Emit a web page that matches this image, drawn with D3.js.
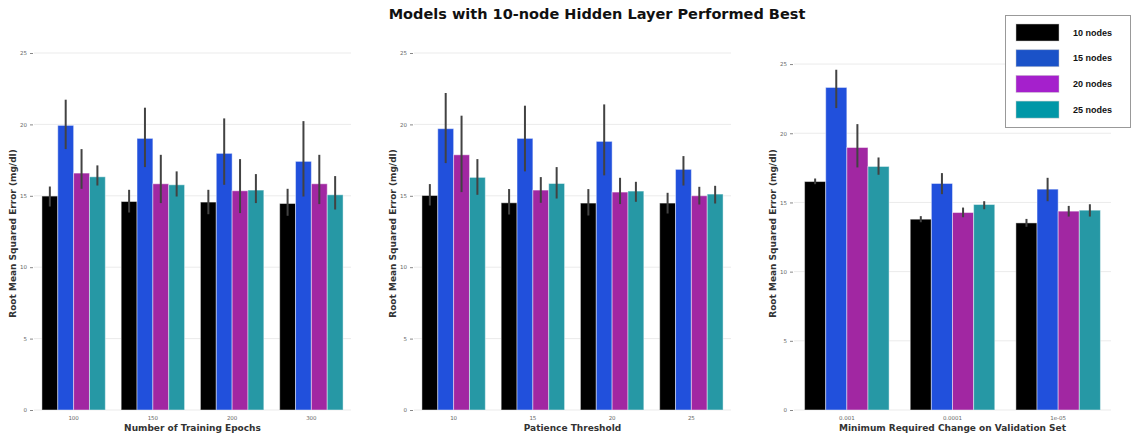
<!DOCTYPE html>
<html>
<head>
<meta charset="utf-8">
<script src="https://cdn.jsdelivr.net/npm/d3@7"></script>
<style>
  body { margin: 0; background: #fff; }
  svg { display: block; }
</style>
</head>
<body>
<svg id="chart"></svg>
<script>
// series names
const nodeSizes = ["10 nodes", "15 nodes", "20 nodes", "25 nodes"];
const barColors = ["#000000", "#2150dc", "#a127a2", "#2698a5"];
const legendColors = ["#000000", "#1a52c8", "#a520cc", "#0097a7"];

// panel 1: training epochs
const epochLabels = ["100", "150", "200", "300"];
const epochMeans = [
  [14.98, 19.93, 16.59, 16.33],
  [14.60, 19.02, 15.84, 15.77],
  [14.56, 17.97, 15.35, 15.40],
  [14.46, 17.41, 15.84, 15.07]
];
const epochLow = [
  [14.25, 18.27, 15.49, 15.72],
  [13.83, 17.01, 14.49, 14.95],
  [13.71, 15.77, 13.79, 14.49],
  [13.60, 14.95, 14.42, 14.04]
];
const epochHigh = [
  [15.65, 21.73, 18.27, 17.13],
  [15.42, 21.17, 17.87, 16.71],
  [15.42, 20.42, 17.57, 16.52],
  [15.49, 20.23, 17.87, 16.38]
];

// panel 2: patience
const patienceLabels = ["10", "15", "20", "25"];
const patienceMeans = [
  [15.02, 19.70, 17.87, 16.29],
  [14.51, 19.02, 15.40, 15.86],
  [14.49, 18.81, 15.26, 15.33],
  [14.49, 16.85, 15.00, 15.12]
];
const patienceLow = [
  [14.32, 17.29, 15.26, 15.07],
  [13.69, 16.71, 14.51, 14.81],
  [13.62, 16.43, 14.42, 14.58],
  [13.76, 15.72, 14.39, 14.46]
];
const patienceHigh = [
  [15.82, 22.20, 20.61, 17.57],
  [15.47, 21.31, 16.31, 17.01],
  [15.47, 21.40, 16.26, 15.98],
  [15.21, 17.78, 15.63, 15.70]
];

// panel 3: min delta
const deltaLabels = ["0.001", "0.0001", "1e-05"];
const deltaMeans = [
  [16.51, 23.31, 18.97, 17.60],
  [13.79, 16.37, 14.27, 14.85],
  [13.52, 15.96, 14.37, 14.44]
];
const deltaLow = [
  [16.32, 21.82, 17.53, 17.00],
  [13.57, 15.60, 13.93, 14.51],
  [13.24, 15.09, 13.98, 13.98]
];
const deltaHigh = [
  [16.73, 24.59, 20.66, 18.25],
  [14.01, 17.12, 14.63, 15.09],
  [13.81, 16.78, 14.75, 14.87]
];

const yTicks = [0, 5, 10, 15, 20, 25];

const width = 1135, height = 437;
const svg = d3.select("#chart").attr("width", width).attr("height", height);

svg.append("text")
  .attr("x", 597).attr("y", 19)
  .attr("text-anchor", "middle")
  .style("font-family", "DejaVu Sans")
  .style("font-weight", "bold")
  .style("font-size", "14.5px")
  .style("fill", "#111")
  .text("Models with 10-node Hidden Layer Performed Best");

const panels = [
  { left: 34, labels: epochLabels, means: epochMeans, low: epochLow, high: epochHigh, yMax: 25, xTitle: "Number of Training Epochs" },
  { left: 414, labels: patienceLabels, means: patienceMeans, low: patienceLow, high: patienceHigh, yMax: 25, xTitle: "Patience Threshold" },
  { left: 794, labels: deltaLabels, means: deltaMeans, low: deltaLow, high: deltaHigh, yMax: 25.8, xTitle: "Minimum Required Change on Validation Set" }
];

const plotW = 317, plotTop = 53, plotBottom = 410;

panels.forEach(p => {
  const g = svg.append("g");

  const x = d3.scaleBand()
    .domain(p.labels)
    .range([p.left, p.left + plotW])
    .paddingInner(0.2)
    .paddingOuter(0.1);

  const xSub = d3.scaleBand()
    .domain(d3.range(nodeSizes.length))
    .range([0, x.bandwidth()]);

  const y = d3.scaleLinear().domain([0, p.yMax]).range([plotBottom, plotTop]);

  // gridlines
  g.selectAll(".grid")
    .data(yTicks)
    .join("line")
    .attr("x1", p.left).attr("x2", p.left + plotW)
    .attr("y1", d => y(d)).attr("y2", d => y(d))
    .attr("stroke", "#ebebeb")
    .attr("stroke-width", 1);

  // y axis (ticks + labels only)
  const yAxis = g.append("g")
    .attr("transform", `translate(${p.left - 1},0)`)
    .call(d3.axisLeft(y).tickValues(yTicks).tickSize(3).tickPadding(3));
  yAxis.select(".domain").remove();
  yAxis.selectAll("line").style("stroke", "#888");
  yAxis.selectAll("text")
    .style("fill", "#666")
    .style("font-family", "DejaVu Sans")
    .style("font-size", "5.5px");

  // bars
  p.labels.forEach((lab, gi) => {
    const grp = g.append("g").attr("transform", `translate(${x(lab)},0)`);
    nodeSizes.forEach((n, si) => {
      grp.append("rect")
        .attr("x", xSub(si))
        .attr("y", y(p.means[gi][si]))
        .attr("width", xSub.bandwidth())
        .attr("height", y(0) - y(p.means[gi][si]))
        .attr("fill", barColors[si])
        .attr("stroke", "rgba(255,255,255,0.45)")
        .attr("stroke-width", 1);
    });
    nodeSizes.forEach((n, si) => {
      const cx = xSub(si) + xSub.bandwidth() / 2;
      grp.append("line")
        .attr("x1", cx).attr("x2", cx)
        .attr("y1", y(p.low[gi][si]))
        .attr("y2", y(p.high[gi][si]))
        .attr("stroke", "#424242")
        .attr("stroke-width", 2);
    });
  });

  // x tick labels
  g.selectAll(".xlab")
    .data(p.labels)
    .join("text")
    .attr("x", d => x(d) + x.bandwidth() / 2)
    .attr("y", 420)
    .attr("text-anchor", "middle")
    .style("fill", "#666")
    .style("font-family", "DejaVu Sans")
    .style("font-size", "5.5px")
    .text(d => d);

  // axis titles
  g.append("text")
    .attr("x", p.left + plotW / 2)
    .attr("y", 431)
    .attr("text-anchor", "middle")
    .style("fill", "#333")
    .style("font-family", "DejaVu Sans")
    .style("font-weight", "bold")
    .style("font-size", "9px")
    .text(p.xTitle);

  g.append("text")
    .attr("transform", `translate(${p.left - 18},${(plotTop + plotBottom) / 2 + 2}) rotate(-90)`)
    .attr("text-anchor", "middle")
    .style("fill", "#333")
    .style("font-family", "DejaVu Sans")
    .style("font-weight", "bold")
    .style("font-size", "9px")
    .text("Root Mean Squared Error (mg/dl)");
});

// legend
const legend = svg.append("g");
legend.append("rect")
  .attr("x", 1005.5).attr("y", 15.5)
  .attr("width", 125).attr("height", 112)
  .attr("fill", "#fff")
  .attr("stroke", "#999")
  .attr("stroke-width", 1);

nodeSizes.forEach((n, i) => {
  const ry = 24 + i * 25.7;
  legend.append("rect")
    .attr("x", 1016).attr("y", ry)
    .attr("width", 43).attr("height", 17)
    .attr("fill", legendColors[i])
    .attr("stroke", "rgba(200,200,200,0.6)")
    .attr("stroke-width", 0.8);
  legend.append("text")
    .attr("x", 1073).attr("y", ry + 11.5)
    .style("fill", "#111")
    .style("font-family", "Liberation Sans")
    .style("font-weight", "bold")
    .style("font-size", "9px")
    .text(n);
});
</script>
</body>
</html>
